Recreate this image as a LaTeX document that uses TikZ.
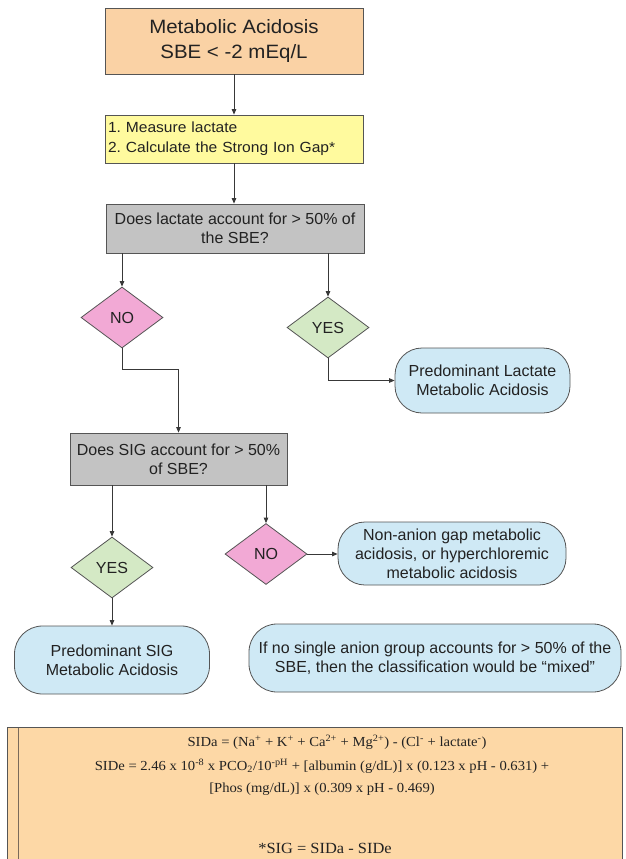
\documentclass[tikz,border=0pt]{standalone}
\usepackage{fontspec}
\setmainfont{Liberation Sans}
\newfontfamily\widesf[FakeStretch=1.06]{Liberation Sans}
\newfontfamily\formfont[FakeStretch=1.06]{Liberation Serif}
\usetikzlibrary{arrows.meta,shapes.geometric}
\definecolor{topfill}{HTML}{FAD2A5}
\definecolor{yelfill}{HTML}{FFFA9E}
\definecolor{grayfill}{HTML}{C3C3C3}
\definecolor{pinkfill}{HTML}{F2A9D5}
\definecolor{greenfill}{HTML}{D4E9C5}
\definecolor{bluefill}{HTML}{CFE9F5}
\definecolor{botfill}{HTML}{FDD8A6}
\definecolor{bordc}{HTML}{555555}
\definecolor{linec}{HTML}{383838}
\definecolor{txtc}{HTML}{222222}
\definecolor{botline}{HTML}{7A6A5A}
\newcommand\flfont{\fontsize{16}{19}\selectfont}
\frenchspacing
\begin{document}
\begin{tikzpicture}[x=1pt,y=-1pt,
  base/.style={draw=bordc, line width=0.8pt, inner sep=0pt, text=txtc},
  rectbox/.style={base, rectangle, align=center, font=\flfont},
  dia/.style={base, diamond, minimum width=82pt, minimum height=61pt, font=\flfont},
  term/.style={base, rectangle, rounded corners=27pt, align=center, font=\flfont, fill=bluefill},
  arr/.style={-{Triangle[length=5.5pt,width=4.5pt]}, line width=0.8pt, draw=linec},
  formula/.style={inner sep=0pt, text=txtc, font=\formfont\fontsize{13.8}{16}\selectfont}]
\useasboundingbox (0,0) rectangle (625,859);
\fill[white] (0,0) rectangle (625,859);

% nodes
\node[rectbox, fill=topfill, minimum width=258pt, minimum height=66pt,
      font=\widesf\fontsize{19.3}{25}\selectfont] (top) at (234,41)
      {Metabolic Acidosis\\SBE < -2 mEq/L};
\node[base, fill=yelfill, minimum width=258pt, minimum height=48pt, inner xsep=3pt,
      text width=252pt, align=left, font=\widesf\fontsize{14.7}{20}\selectfont] (meas) at (234,139)
      {1. Measure lactate\\2. Calculate the Strong Ion Gap*};
\node[rectbox, fill=grayfill, minimum width=258pt, minimum height=49pt] (q1) at (235,228.5)
      {Does lactate account for > 50\% of\\the SBE?};
\node[dia, fill=pinkfill] (no1) at (122,317.5) {NO};
\node[dia, fill=greenfill] (yes1) at (328,327.5) {YES};
\node[term, minimum width=175pt, minimum height=65pt] (lac) at (482.5,380.5)
      {Predominant Lactate\\Metabolic Acidosis};
\node[rectbox, fill=grayfill, minimum width=217pt, minimum height=52pt] (q2) at (178.5,459)
      {Does SIG account for > 50\%\\of SBE?};
\node[dia, fill=greenfill] (yes2) at (112,567.5) {YES};
\node[dia, fill=pinkfill] (no2) at (266,554) {NO};
\node[term, minimum width=228pt, minimum height=63pt] (nag) at (452,553.5)
      {Non-anion gap metabolic\\acidosis, or hyperchloremic\\metabolic acidosis};
\node[term, minimum width=195pt, minimum height=68pt, rounded corners=28pt] (sigt) at (112,660)
      {Predominant SIG\\Metabolic Acidosis};
\node[term, minimum width=372pt, minimum height=68pt, rounded corners=28pt] (mixt) at (435,658)
      {If no single anion group accounts for > 50\% of the\\SBE, then the classification would be \textquotedblleft mixed\textquotedblright};

\coordinate (nobend) at (178.5,369);

% connectors
\draw[arr] (top) -- (meas);
\draw[arr] (meas.south) -- (meas.south |- q1.north);
\draw[arr] (q1.south -| no1.north) -- (no1.north);
\draw[arr] (q1.south -| yes1.north) -- (yes1.north);
\draw[arr] (yes1.south) |- (lac.west);
\draw[arr] (no1.south) |- (nobend) -- (q2.north);
\draw[arr] (q2.south -| yes2.north) -- (yes2.north);
\draw[arr] (q2.south -| no2.north) -- (no2.north);
\draw[arr] (no2.east) -- (no2.east -| nag.west);
\draw[arr] (yes2.south) -- (sigt.north);

% bottom formula box
\fill[botfill] (7,727) rectangle (622,862);
\draw[bordc, line width=1pt] (7,862) -- (7,727) -- (622,727) -- (622,862);
\draw[botline, line width=1pt] (18,727.5) -- (18,862);
\node[formula] (f1) at (337,742)
  {SIDa = (Na\textsuperscript{+} + K\textsuperscript{+} + Ca\textsuperscript{2+} + Mg\textsuperscript{2+}) - (Cl\textsuperscript{-} + lactate\textsuperscript{-})};
\node[formula] (f2) at (322,766)
  {SIDe = 2.46 x 10\textsuperscript{-8} x PCO\textsubscript{2}/10\textsuperscript{-pH} + [albumin (g/dL)] x (0.123 x pH - 0.631) +};
\node[formula] (f3) at (322,789)
  {[Phos (mg/dL)] x (0.309 x pH - 0.469)};
\node[formula, font=\formfont\fontsize{15.5}{18}\selectfont] (f4) at (325,848) {*SIG = SIDa - SIDe};
\end{tikzpicture}
\end{document}
